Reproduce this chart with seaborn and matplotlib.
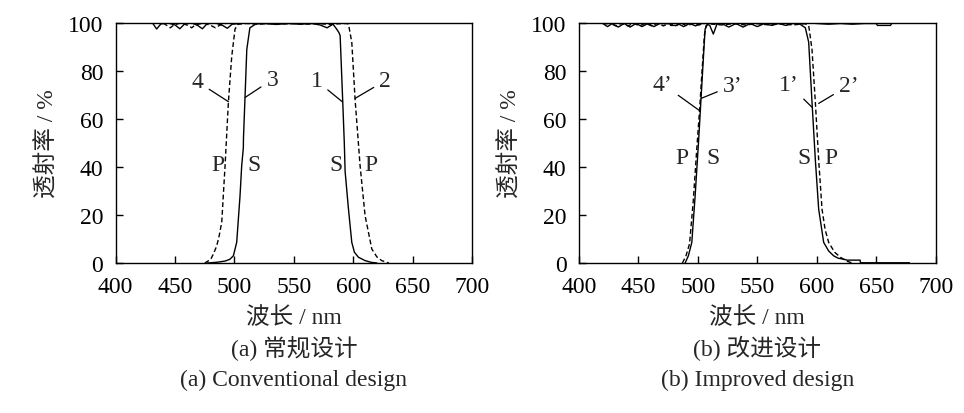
import matplotlib
matplotlib.use("Agg")
import matplotlib.pyplot as plt
import seaborn as sns

# 字体和主题
sns.set_theme(style="ticks")
plt.rcParams['font.family'] = ['Liberation Serif', 'Noto Sans CJK SC']
plt.rcParams['font.size'] = 17
plt.rcParams['axes.unicode_minus'] = False

# ---------------- (a) 常规设计 数据 ----------------
# S 偏振 通带曲线 (曲线 3 和 1)
conv_s_wl = [477, 485, 492, 496, 499.1, 501.9, 504.7, 506.1, 507.5, 507.6, 508.9, 510.4, 513, 518,
             525, 535, 545, 555, 565, 572, 578, 583, 586, 588, 589, 591.2, 592.5, 593.2, 593.5,
             596, 598.8, 601, 604.4, 610, 615, 620]
conv_s_t = [0, 0.3, 0.8, 1.5, 3, 8.6, 28, 40.5, 48, 52, 69, 89, 98, 99.6,
            99.8, 99.4, 99.8, 99.5, 99.8, 99.2, 98, 99.5, 97.5, 96, 94.7, 67, 50, 38, 36.4,
            22.5, 8.6, 4.5, 2.4, 1, 0.3, 0]
# P 偏振 通带曲线 (曲线 4 和 2)
conv_p_wl = [475, 480, 482.2, 485, 487, 489.3, 492.1, 494.9, 497.7, 500.5, 503, 510, 520, 530,
             540, 550, 560, 570, 580, 588, 594, 596, 598.8, 601.6, 605.8, 610, 615.7, 620, 624, 630]
conv_p_t = [0, 1.5, 3.7, 7, 11, 17, 40.5, 67, 86, 97.5, 99.5, 99.8, 99.5, 99.8,
            99.6, 99.8, 99.5, 99.8, 99.4, 99.7, 99.8, 99.6, 92, 68, 40.5, 19.7, 5.8, 2.5, 1, 0]
# 通带左侧顶部波纹
conv_top_s_wl = [431, 434.5, 438, 444, 450, 454, 458, 464, 469, 473, 477, 484, 490, 494, 498, 504, 510]
conv_top_s_t = [100, 97.5, 99.6, 100, 99.2, 97.6, 99.6, 100, 99, 97.6, 99.7, 100, 99, 97.8, 99.5, 99.8, 100]
conv_top_p_wl = [440, 443, 446, 449, 455, 461, 464, 467, 474, 480, 484, 488, 494, 500]
conv_top_p_t = [100, 99, 98, 99.2, 100, 99, 98, 99.2, 100, 99, 98, 99.2, 100, 99.8]

# ---------------- (b) 改进设计 数据 ----------------
impr_s_wl = [489.3, 492, 494.9, 497.7, 500.5, 502.8, 504.7, 506.1, 508, 510, 513, 516, 520, 526,
             532, 538, 544, 550, 556, 562, 568, 574, 580, 586, 590.4, 593.2, 596, 598.8, 601.6,
             605.8, 610, 614.2, 618, 622.6, 625.5, 636.5, 636.7, 678]
impr_s_t = [0, 3, 8.6, 28, 50, 69.7, 86, 97.5, 99.5, 99, 95.4, 99.5, 99.8, 98.3,
            99.8, 98.3, 99.8, 98.5, 99.8, 99, 99.8, 99, 99.8, 99.5, 98, 92, 67, 43, 22.5,
            8.6, 5, 3, 2, 1.6, 1.2, 1.2, 0.1, 0.1]
impr_p_wl = [487, 490, 493, 496, 499, 501.4, 503.5, 505.5, 507, 510, 520, 530, 540, 550, 560,
             570, 580, 590, 593.2, 596, 598.8, 601.6, 604.4, 607, 610, 615, 619.9, 625, 630]
impr_p_t = [0, 3, 8, 25, 47, 63.5, 80, 95, 99, 99.6, 99.2, 99.7, 99.2, 99.7, 99.2,
            99.7, 99.2, 99.7, 99, 89, 67, 43, 22.5, 14, 8.6, 4.5, 2.4, 0.8, 0]
impr_top_s_wl = [420, 424, 428, 433, 438, 443, 448, 453, 458, 463, 468, 473, 476.7, 477, 482.5,
                 483, 488, 493, 498, 503, 506]
impr_top_s_t = [99.8, 98.5, 99.8, 98.3, 99.8, 98.3, 99.8, 98.5, 99.8, 98.5, 99.8, 99.7, 99.7, 99,
                 99, 99.8, 98.5, 99.8, 98.8, 99.8, 99.8]
impr_top_p_wl = [422, 426, 431, 436, 441, 446, 451, 456, 461, 466, 471, 476, 481, 486, 491, 496, 501, 505]
impr_top_p_t = [99.6, 99.9, 98.8, 99.9, 98.8, 99.9, 98.8, 99.9, 98.8, 99.9, 98.8, 99.9, 98.8, 99.9,
                98.8, 99.9, 99.2, 99.8]
impr_tail_wl = [596, 600, 610, 620, 630, 640, 650, 651, 662, 663]
impr_tail_t = [100, 99.8, 99.5, 99.8, 99.5, 99.8, 99.8, 99, 99, 99.8]

# 坐标轴刻度
x_ticks = [400, 450, 500, 550, 600, 650, 700]
y_ticks = [0, 20, 40, 60, 80, 100]

fig = plt.figure(figsize=(9.64, 4.14), dpi=100)
ax1 = fig.add_axes([0.120, 0.3623, 0.3696, 0.5797])
ax2 = fig.add_axes([0.6006, 0.3623, 0.3700, 0.5797])

solid = dict(color="black", linewidth=1.0, sort=False, estimator=None)
dashed = dict(color="black", linewidth=1.0, sort=False, estimator=None, linestyle=(0, (3.5, 2)))

sns.lineplot(x=conv_s_wl, y=conv_s_t, ax=ax1, **solid)
sns.lineplot(x=conv_p_wl, y=conv_p_t, ax=ax1, **dashed)
sns.lineplot(x=conv_top_s_wl, y=conv_top_s_t, ax=ax1, **solid)
sns.lineplot(x=conv_top_p_wl, y=conv_top_p_t, ax=ax1, **dashed)

sns.lineplot(x=impr_s_wl, y=impr_s_t, ax=ax2, **solid)
sns.lineplot(x=impr_p_wl, y=impr_p_t, ax=ax2, **dashed)
sns.lineplot(x=impr_top_s_wl, y=impr_top_s_t, ax=ax2, **solid)
sns.lineplot(x=impr_top_p_wl, y=impr_top_p_t, ax=ax2, **dashed)
sns.lineplot(x=impr_tail_wl, y=impr_tail_t, ax=ax2, **solid)

# 曲线编号与引线
conv_notes = [("4", (495, 67.2), (469, 75.5)), ("3", (509, 69), (532, 76.5)),
              ("1", (590.8, 67.2), (569, 76)), ("2", (601.6, 68.6), (627, 76))]
impr_notes = [("4’", (501.4, 63.5), (470.5, 74.5)), ("3’", (502.8, 68.6), (529.5, 74)),
              ("1’", (596, 64.9), (576.3, 74.5)), ("2’", (601.6, 66.5), (627, 74))]
conv_sp = [("P", 486.5, 41), ("S", 516.8, 41), ("S", 585.6, 41), ("P", 615, 41)]
impr_sp = [("P", 486.5, 44), ("S", 512.6, 44), ("S", 589, 44), ("P", 612.3, 44)]

for ax, notes, sp, cap_cn, cap_en in [
        (ax1, conv_notes, conv_sp, "(a) 常规设计", "(a) Conventional design"),
        (ax2, impr_notes, impr_sp, "(b) 改进设计", "(b) Improved design")]:
    for txt, xy, xytext in notes:
        ax.annotate(txt, xy=xy, xytext=xytext, ha="center", va="center", fontsize=17,
                    arrowprops=dict(arrowstyle="-", color="black", lw=0.9, shrinkA=2, shrinkB=0))
    for txt, x, y in sp:
        ax.text(x, y, txt, ha="center", va="center", fontsize=17)

    ax.set_xlim(400, 700)
    ax.set_ylim(0, 100)
    ax.set_xticks(x_ticks)
    ax.set_yticks(y_ticks)
    ax.tick_params(direction="in", length=5, width=1, pad=9, labelsize=17,
                   top=False, right=False, colors="black")
    for s in ax.spines.values():
        s.set_visible(True)
        s.set_linewidth(1.0)
        s.set_color("black")
    ax.set_xlabel("波长 / nm", fontsize=17, va="center")
    ax.xaxis.set_label_coords(0.5, -0.225)
    ax.set_ylabel("透射率 / %", fontsize=17, va="center")
    ax.yaxis.set_label_coords(-0.191, 0.5)
    ax.text(0.5, -0.35, cap_cn, transform=ax.transAxes, ha="center", va="center", fontsize=17)
    ax.text(0.5, -0.483, cap_en, transform=ax.transAxes, ha="center", va="center", fontsize=17)

fig.savefig("out.png", dpi=100)
